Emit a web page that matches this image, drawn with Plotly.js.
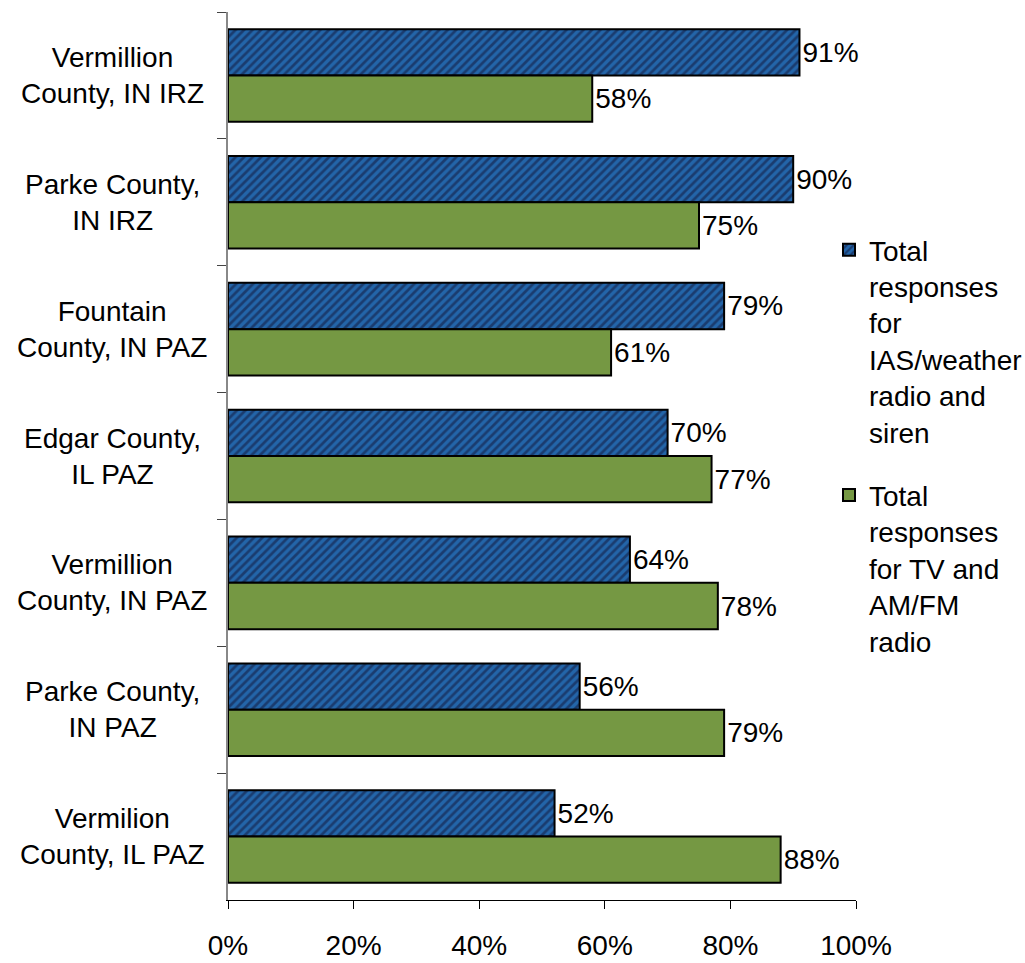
<!DOCTYPE html>
<html>
<head>
<meta charset="utf-8">
<script src="https://cdn.plot.ly/plotly-3.0.1.min.js"></script>
<style>html,body{margin:0;padding:0;background:#fff;}#chart{width:1025px;height:963px;}</style>
</head>
<body>
<div id="chart"></div>
<script>
var categories = ["Vermillion<br>County, IN IRZ", "Parke County,<br>IN IRZ", "Fountain<br>County, IN PAZ", "Edgar County,<br>IL PAZ", "Vermillion<br>County, IN PAZ", "Parke County,<br>IN PAZ", "Vermilion<br>County, IL PAZ"];
var sirenValues = [91, 90, 79, 70, 64, 56, 52];
var tvValues = [58, 75, 61, 77, 78, 79, 88];
var seriesNames = ["Total<br>responses<br>for<br>IAS/weather<br>radio and<br>siren", "Total<br>responses<br>for TV and<br>AM/FM<br>radio"];
var xTicks = [0, 20, 40, 60, 80, 100];

var FONT = "Liberation Sans, Arial, sans-serif";
var fs = 28;

function pct(a){ return a.map(function(v){ return v + "%"; }); }

var traces = [
  {
    type: "bar", orientation: "h", name: seriesNames[0], legendgroup: "a",
    y: categories, x: sirenValues, text: pct(sirenValues),
    textposition: "outside", cliponaxis: false,
    textfont: {family: FONT, size: fs, color: "#000"},
    marker: {color: "#2365a9", line: {color: "#000", width: 2},
      pattern: {shape: "/", fgcolor: "#1a3c6f", bgcolor: "#2365a9", size: 6, solidity: 0.45, fillmode: "replace"}},
    hoverinfo: "none"
  },
  {
    type: "bar", orientation: "h", name: seriesNames[1], legendgroup: "b",
    y: categories, x: tvValues, text: pct(tvValues),
    textposition: "outside", cliponaxis: false,
    textfont: {family: FONT, size: fs, color: "#000"},
    marker: {color: "#759843", line: {color: "#000", width: 2}},
    hoverinfo: "none"
  }
];

var annotations = categories.map(function(c){
  return {xref: "paper", yref: "y", x: (112 - 228) / 628, y: c, text: c,
    showarrow: false, xanchor: "center", yanchor: "middle", align: "center",
    font: {family: FONT, size: fs, color: "#000"}};
});

var layout = {
  width: 1025, height: 963,
  margin: {l: 228, r: 169, t: 12, b: 63, autoexpand: false},
  paper_bgcolor: "#fff", plot_bgcolor: "#fff",
  font: {family: FONT, size: fs, color: "#000"},
  barmode: "group", bargap: 0.27, bargroupgap: 0,
  showlegend: true,
  legend: {x: (829 - 228) / 628, xanchor: "left", y: (963 - 63 - 225) / 888, yanchor: "top",
    yref: "paper", xref: "paper", valign: "top", tracegroupgap: 24,
    font: {family: FONT, size: fs, color: "#000"}, bgcolor: "rgba(0,0,0,0)", itemclick: false},
  xaxis: {range: [0, 100], tickvals: xTicks, ticktext: pct(xTicks), showgrid: false, zeroline: false,
    showline: true, linecolor: "#000", linewidth: 1, ticks: "outside", ticklen: 8, tickcolor: "#000",
    ticklabelstandoff: 12, tickfont: {family: FONT, size: fs, color: "#000"}, fixedrange: true},
  yaxis: {type: "category", range: [6.5, -0.5], showgrid: false, zeroline: false, showline: true,
    linecolor: "#888", linewidth: 2, ticks: "outside", tickson: "boundaries", ticklen: 9, tickcolor: "#444",
    showticklabels: false, fixedrange: true},
  annotations: annotations
};

Plotly.newPlot("chart", traces, layout, {displayModeBar: false, staticPlot: true});
</script>
</body>
</html>
